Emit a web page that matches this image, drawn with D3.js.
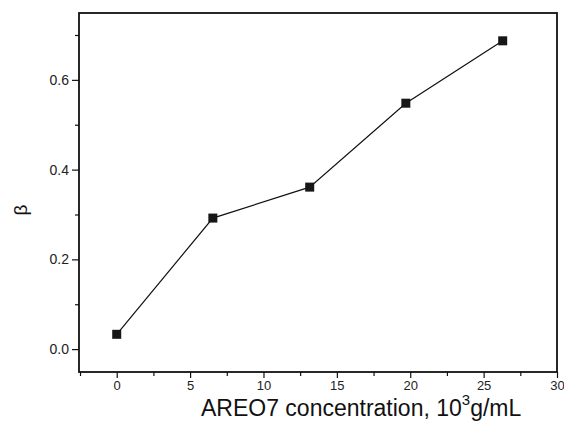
<!DOCTYPE html>
<html>
<head>
<meta charset="utf-8">
<script src="https://cdn.jsdelivr.net/npm/d3@7"></script>
<style>
  body { margin: 0; background: #fff; }
  svg { display: block; font-family: "Liberation Sans", Arial, sans-serif; }
</style>
</head>
<body>
<svg id="drawing_region"></svg>
<script>
// concentration (10^3 g/mL) and beta values
const concentration = [0, 6.55, 13.15, 19.7, 26.3];
const beta = [0.033, 0.292, 0.361, 0.548, 0.687];
const xTicks = [0, 5, 10, 15, 20, 25, 30];
const yTicks = [0.0, 0.2, 0.4, 0.6];

const data = concentration.map((c, i) => ({ x: c, y: beta[i] }));

const config = {
    width: 564,
    height: 422,
    margin: { top: 13, right: 7, bottom: 50, left: 79 }
};

const svg = d3.select('#drawing_region')
    .attr('width', config.width)
    .attr('height', config.height);

const inner_width = config.width - config.margin.left - config.margin.right;
const inner_height = config.height - config.margin.top - config.margin.bottom;

const chart = svg.append('g')
    .attr('transform', `translate(${config.margin.left}, ${config.margin.top})`);

const xscale = d3.scaleLinear()
    .domain([-2.57, 30])
    .range([0, inner_width]);

const yscale = d3.scaleLinear()
    .domain([-0.051, 0.749])
    .range([inner_height, 0]);

// minor ticks first
const xMinor = d3.range(-2.5, 30, 5);
const yMinor = [0.1, 0.3, 0.5, 0.7];

chart.append('g')
    .attr('transform', `translate(0, ${inner_height})`)
    .call(d3.axisBottom(xscale).tickValues(xMinor).tickSize(4).tickFormat('').tickSizeOuter(0))
    .call(g => g.select('.domain').remove());

chart.append('g')
    .call(d3.axisLeft(yscale).tickValues(yMinor).tickSize(4).tickFormat('').tickSizeOuter(0))
    .call(g => g.select('.domain').remove());

// major ticks
const xaxis_group = chart.append('g')
    .attr('transform', `translate(0, ${inner_height})`)
    .call(d3.axisBottom(xscale).tickValues(xTicks).tickSize(6).tickPadding(3).tickSizeOuter(0));
xaxis_group.select('.domain').remove();
xaxis_group.selectAll('text').attr('font-size', 13).attr('font-family', '"Liberation Sans", Arial, sans-serif').attr('fill', '#222');

const yaxis_group = chart.append('g')
    .call(d3.axisLeft(yscale).tickValues(yTicks).tickSize(7).tickPadding(3)
        .tickFormat(d3.format('.1f')).tickSizeOuter(0));
yaxis_group.select('.domain').remove();
yaxis_group.selectAll('text').attr('font-size', 14).attr('font-family', '"Liberation Sans", Arial, sans-serif').attr('fill', '#222');

chart.selectAll('.tick line').attr('stroke', '#111').attr('stroke-width', 1.2);

// frame
chart.append('rect')
    .attr('x', 0)
    .attr('y', 0)
    .attr('width', inner_width)
    .attr('height', inner_height)
    .attr('fill', 'none')
    .attr('stroke', '#111')
    .attr('stroke-width', 1.8);

// line
const line = d3.line()
    .x(d => xscale(d.x))
    .y(d => yscale(d.y));

chart.append('path')
    .attr('d', line(data))
    .attr('stroke', '#111')
    .attr('stroke-width', 1.2)
    .attr('fill', 'none');

const s = 9;
chart.selectAll('rect.pt')
    .data(data)
    .enter()
    .append('rect')
    .attr('class', 'pt')
    .attr('x', d => xscale(d.x) - s / 2)
    .attr('y', d => yscale(d.y) - s / 2)
    .attr('width', s)
    .attr('height', s)
    .attr('fill', '#161616');

// axis labels
const xlabel = svg.append('text')
    .attr('x', 201)
    .attr('y', 416)
    .attr('font-size', 23)
    .attr('fill', '#111');
xlabel.append('tspan').text('AREO7 concentration, 10');
xlabel.append('tspan').attr('font-size', 15).attr('dy', -11).text('3');
xlabel.append('tspan').attr('dy', 11).text('g/mL');

svg.append('text')
    .attr('transform', 'translate(27, 210) rotate(-90)')
    .attr('text-anchor', 'middle')
    .attr('font-size', 19)
    .attr('fill', '#111')
    .text('β');
</script>
</body>
</html>
